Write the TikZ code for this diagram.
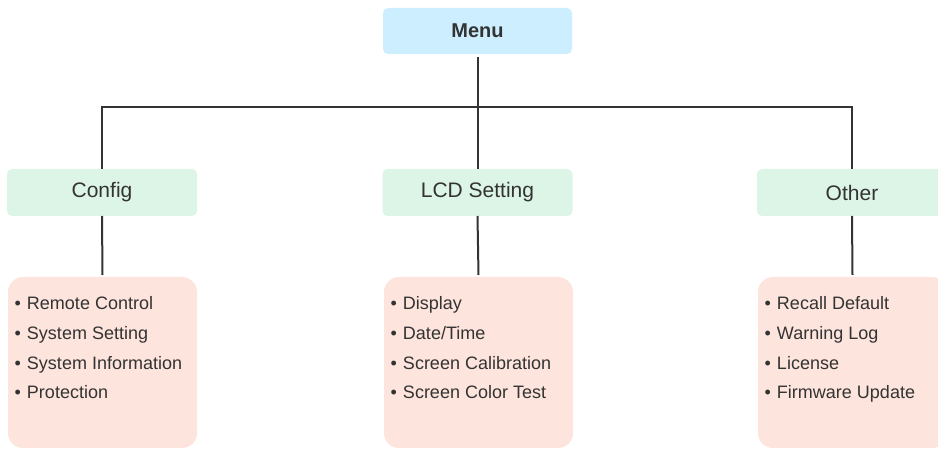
\documentclass[tikz,border=0pt]{standalone}
\usepackage{fontspec}
\setmainfont{Liberation Sans}
\begin{document}
\begin{tikzpicture}[x=1pt,y=-1pt,
  base/.style={rectangle,inner sep=0pt,outer sep=0pt,text=txt},
  topbox/.style={base,fill=menublue,rounded corners=5pt,minimum width=189pt,minimum height=46pt,font=\fontsize{20}{24}\selectfont\bfseries},
  catbox/.style={base,fill=catgreen,rounded corners=5pt,minimum width=190pt,minimum height=47pt,font=\fontsize{21}{25}\selectfont},
  listbox/.style={base,fill=listpink,rounded corners=15pt,minimum width=189pt,minimum height=171pt},
  listtext/.style={base,anchor=base west,align=left,font=\fontsize{18}{29.7}\selectfont},
  conn/.style={draw=linegray,line width=2pt}]
\definecolor{menublue}{HTML}{CDEEFE}
\definecolor{catgreen}{HTML}{DDF5E7}
\definecolor{listpink}{HTML}{FDE4DC}
\definecolor{txt}{HTML}{333333}
\definecolor{linegray}{HTML}{333333}
\useasboundingbox (0,0) rectangle (938,449);
\newcommand{\bul}{\makebox[12.5pt][l]{•}}
% boxes
\node[topbox] (menu) at (477.5,31) {Menu};
\node[catbox] (config) at (102,192.5) {Config};
\node[catbox] (lcd) at (477.5,192.5) {LCD Setting};
\node[catbox] (other) at (852,192.5) {Other};
\node[listbox] (configlist) at (102.5,362.5) {};
\node[listbox] (lcdlist) at (478.5,362.5) {};
\node[listbox] (otherlist) at (852.5,362.5) {};
% list texts (anchor at baseline of last line)
\node[listtext] (configtxt) at (14.5,399) {\bul Remote Control\\\bul System Setting\\\bul System Information\\\bul Protection};
\node[listtext] (lcdtxt) at (390.5,399) {\bul Display\\\bul Date/Time\\\bul Screen Calibration\\\bul Screen Color Test};
\node[listtext] (othertxt) at (764.5,399) {\bul Recall Default\\\bul Warning Log\\\bul License\\\bul Firmware Update};
% connectors
\coordinate (j) at (477.5,107);
\draw[conn] ([yshift=-3pt]menu.south) -- (j);
\draw[conn] (config.north) |- (j) -| (other.north);
\draw[conn] (j) -- (lcd.north);
\draw[conn] (config.south) -- ([yshift=2pt]configlist.north);
\draw[conn] (lcd.south) -- ([yshift=2pt]lcdlist.north);
\draw[conn] (other.south) -- ([yshift=2pt]otherlist.north);
\end{tikzpicture}
\end{document}
